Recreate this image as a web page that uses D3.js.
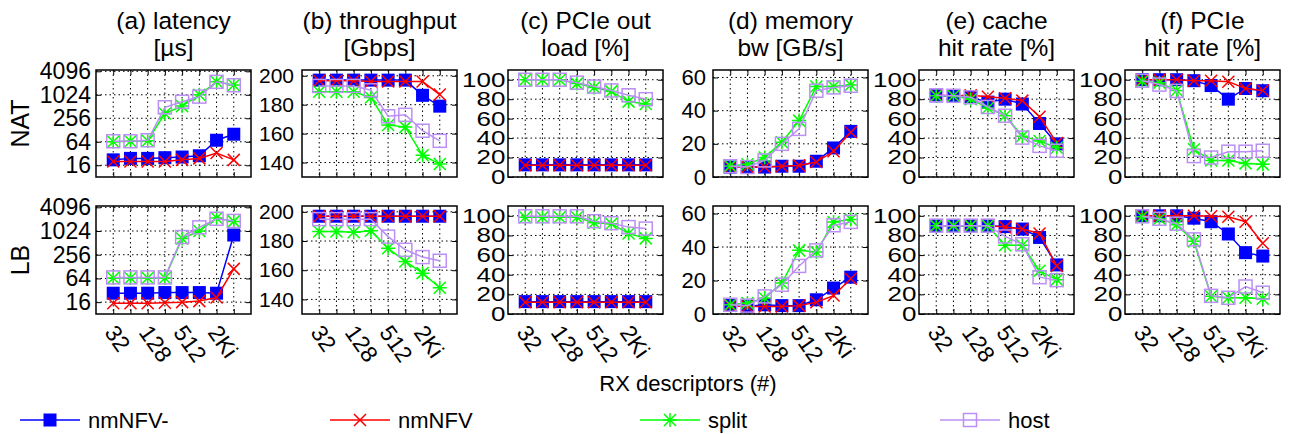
<!DOCTYPE html>
<html>
<head>
<meta charset="utf-8">
<script src="https://cdn.jsdelivr.net/npm/d3@7"></script>
<style>
    body { margin: 0; background: #fff; }
    text { font-family: "Liberation Sans", Arial, sans-serif; fill: #000; }
</style>
</head>
<body>
<svg id="chart" width="1292" height="434"></svg>
<script>
// x values (RX descriptors) and the tick labels shown
var rxDescriptors = [32, 64, 128, 256, 512, 1024, 2048, 4096];
var xTickValues = [32, 128, 512, 2048];
var xTickLabels = ["32", "128", "512", "2Ki"];

var seriesNames = ["nmNFV-", "nmNFV", "split", "host"];
var rowNames = ["NAT", "LB"];
var panelTitles = [
    ["(a) latency", "[\u00b5s]"],
    ["(b) throughput", "[Gbps]"],
    ["(c) PCIe out", "load [%]"],
    ["(d) memory", "bw [GB/s]"],
    ["(e) cache", "hit rate [%]"],
    ["(f) PCIe", "hit rate [%]"]
];
var yTicksLatency = [16, 64, 256, 1024, 4096];
var yTicksThroughput = [140, 160, 180, 200];
var yTicksPercent = [0, 20, 40, 60, 80, 100];
var yTicksMemory = [0, 20, 40, 60];

// each panel: rows are nmNFV-, nmNFV, split, host
var natLatency = [
    [22, 24, 24, 25, 26, 28, 70, 100],
    [20, 20, 20, 20, 22, 24, 33, 22],
    [64, 66, 68, 340, 525, 1024, 2200, 1830],
    [66, 66, 70, 490, 680, 920, 2200, 1800]
];
var natThroughput = [
    [197, 197, 197, 197, 197, 197, 186.5, 179],
    [196.5, 196.5, 196.5, 196, 196, 196, 196, 187],
    [189, 189, 189, 185, 166, 164.5, 145, 139],
    [193, 193, 193, 190, 172, 173, 162, 155]
];
var natPcieLoad = [
    [12.5, 12.5, 12.5, 12.5, 12.5, 12.5, 12.5, 12.5],
    [12, 12, 12, 12, 12, 12, 12, 12],
    [100, 100, 100, 96, 92, 88, 77.5, 75],
    [100, 100, 100, 97, 93, 89, 84, 80]
];
var natMemory = [
    [6, 6, 6, 6.5, 6.5, 9.5, 17.5, 27.5],
    [6, 6, 6, 6.5, 7, 9, 15.5, 27],
    [6.7, 7.7, 11.7, 21, 34, 54.5, 54.5, 55.5],
    [6.5, 6, 10, 20, 29, 52, 54, 55]
];
var natCache = [
    [83.5, 83.5, 82, 77, 80, 75, 55, 34],
    [84, 83.5, 84, 82.5, 81, 78.5, 62, 35],
    [83.5, 83.5, 80, 71, 63, 42, 37, 30],
    [84, 83.5, 82, 72, 63, 40.5, 32, 27]
];
var natPcieHit = [
    [100, 100, 100, 99, 94, 80, 91, 88.7],
    [100, 100, 100, 99, 99, 98, 91, 89],
    [98.5, 97, 89, 28.5, 17, 17, 14, 13],
    [99, 95, 88.5, 21.5, 20, 26, 26, 27]
];
var lbLatency = [
    [27, 27, 27, 28, 28, 28, 27, 810],
    [15, 15, 15, 15.5, 16, 17, 21, 112],
    [66, 66, 66, 66, 660, 1024, 2200, 1800],
    [68, 68, 68, 68, 720, 1270, 2100, 1850]
];
var lbThroughput = [
    [197, 197, 197, 197, 197, 197, 197, 197],
    [197, 197, 197, 197, 197, 197, 197, 197],
    [186.5, 186.5, 186, 187, 175, 166, 158, 148],
    [195, 195, 195, 195, 183, 174, 169, 166.5]
];
var lbPcieLoad = [
    [12.6, 12.6, 12.6, 12.6, 12.6, 12.6, 12.6, 12.6],
    [12, 12, 12, 12, 12, 12, 12, 12],
    [98.6, 98.6, 98.6, 98.6, 93, 92, 82, 77],
    [99.5, 99.5, 99.5, 99.5, 94.5, 92.5, 88.5, 87]
];
var lbMemory = [
    [5.5, 4.5, 5.5, 5, 5, 8.5, 15.5, 22],
    [5, 4.5, 4.5, 4.5, 5, 7, 11, 21],
    [5.5, 6.5, 9.5, 18.5, 38, 37, 55, 56.5],
    [5.5, 5, 10.5, 17.5, 28.7, 38, 53, 55]
];
var lbCache = [
    [90, 90, 90, 90, 89, 86.5, 78, 50],
    [90, 90, 90, 90, 88.5, 86.5, 82, 49],
    [90, 90, 90, 90, 70, 70, 44, 35],
    [90, 90, 90, 90, 79, 71, 37.5, 34.5]
];
var lbPcieHit = [
    [100, 100, 100, 97.6, 94, 81.5, 62.5, 59],
    [100, 100, 100, 100, 99.5, 99, 94, 72],
    [99, 97, 91, 74, 18, 16.5, 16.5, 15.5],
    [99.5, 97, 92, 76, 18.5, 16.5, 28, 21.7]
];

var panelData = [
    [natLatency, natThroughput, natPcieLoad, natMemory, natCache, natPcieHit],
    [lbLatency, lbThroughput, lbPcieLoad, lbMemory, lbCache, lbPcieHit]
];

var colors = ["#0000ff", "#ff0000", "#00ff00", "#bb8ff5"];

var svg = d3.select("#chart");
var panelW = 155;
var panelLefts = [96, 302, 508, 713, 919, 1125];
var rowTops = [70, 206];
var rowHeights = [107, 108];

function makeY(col, h) {
    if (col === 0) return d3.scaleLog().base(2).domain([8, 4096 * 1.08]).range([h, 0]);
    if (col === 1) return d3.scaleLinear().domain([130, 204]).range([h, 0]);
    if (col === 3) return d3.scaleLinear().domain([0, 64.5]).range([h, 0]);
    return d3.scaleLinear().domain([0, 110]).range([h, 0]);
}
function yTicksFor(col) {
    if (col === 0) return yTicksLatency;
    if (col === 1) return yTicksThroughput;
    if (col === 3) return yTicksMemory;
    return yTicksPercent;
}
// label size / gap per panel kind
var tickFont = [23, 21, 20, 22, 20, 20];
var tickGap = [5, 8, 2, 7, 2, 2];

var x = d3.scaleLog().base(2).domain([16, 8192]).range([0, panelW]);

function drawMarker(g, type, cx, cy) {
    var s = 6.5;
    if (type === 0) {
        g.append("rect").attr("x", cx - s).attr("y", cy - s)
            .attr("width", 2 * s).attr("height", 2 * s).attr("fill", colors[0]);
    } else if (type === 1) {
        g.append("path").attr("d", "M" + (cx - 6) + "," + (cy - 6) + "L" + (cx + 6) + "," + (cy + 6) +
            "M" + (cx - 6) + "," + (cy + 6) + "L" + (cx + 6) + "," + (cy - 6))
            .attr("stroke", colors[1]).attr("stroke-width", 1.5).attr("fill", "none");
    } else if (type === 2) {
        g.append("path").attr("d", "M" + (cx - 6) + "," + (cy - 6) + "L" + (cx + 6) + "," + (cy + 6) +
            "M" + (cx - 6) + "," + (cy + 6) + "L" + (cx + 6) + "," + (cy - 6) +
            "M" + (cx - 7) + "," + cy + "L" + (cx + 7) + "," + cy +
            "M" + cx + "," + (cy - 7) + "L" + cx + "," + (cy + 7))
            .attr("stroke", colors[2]).attr("stroke-width", 1.5).attr("fill", "none");
    } else {
        g.append("rect").attr("x", cx - s).attr("y", cy - s)
            .attr("width", 2 * s).attr("height", 2 * s).attr("fill", "none")
            .attr("stroke", colors[3]).attr("stroke-width", 1.5);
    }
}

rowNames.forEach(function(rowName, r) {
    var h = rowHeights[r];
    svg.append("text")
        .attr("transform", "translate(29," + (rowTops[r] + h / 2) + ") rotate(-90)")
        .attr("text-anchor", "middle")
        .style("font-size", "25px")
        .text(rowName);

    panelData[r].forEach(function(data, c) {
        var y = makeY(c, h);
        var g = svg.append("g").attr("transform", "translate(" + panelLefts[c] + "," + rowTops[r] + ")");

        // grid
        g.selectAll(".vgrid").data(rxDescriptors).enter().append("line")
            .attr("x1", function(d) { return x(d); }).attr("x2", function(d) { return x(d); })
            .attr("y1", 0).attr("y2", h)
            .attr("stroke", "#000").attr("stroke-width", 1).attr("stroke-dasharray", "1.5,3");
        g.selectAll(".hgrid").data(yTicksFor(c)).enter().append("line")
            .attr("x1", 0).attr("x2", panelW)
            .attr("y1", function(d) { return y(d); }).attr("y2", function(d) { return y(d); })
            .attr("stroke", "#000").attr("stroke-width", 1).attr("stroke-dasharray", "1.5,3");

        // y axis (ticks inside, labels outside)
        var yAxis = d3.axisLeft(y).tickValues(yTicksFor(c)).tickSize(-5).tickPadding(tickGap[c])
            .tickFormat(function(d) { return d; });
        var ya = g.append("g").call(yAxis);
        ya.select(".domain").remove();
        ya.selectAll("text")
            .attr("font-family", "Liberation Sans, Arial, sans-serif")
            .style("font-size", tickFont[c] + "px");
        if (c === 2 || c === 4 || c === 5) {
            // wide, squat percent labels as in the original
            ya.selectAll("text").attr("transform", "scale(1.3,1)");
        }
        var ya2 = g.append("g").attr("transform", "translate(" + panelW + ",0)")
            .call(d3.axisRight(y).tickValues(yTicksFor(c)).tickSize(-5).tickFormat(""));
        ya2.select(".domain").remove();

        // x axis ticks
        var xa = g.append("g").attr("transform", "translate(0," + h + ")")
            .call(d3.axisBottom(x).tickValues(rxDescriptors).tickSize(-5).tickFormat(""));
        xa.select(".domain").remove();
        var xa2 = g.append("g").call(d3.axisTop(x).tickValues(rxDescriptors).tickSize(-5).tickFormat(""));
        xa2.select(".domain").remove();

        if (r === 1) {
            g.selectAll(".xlab").data(xTickValues).enter().append("text")
                .attr("transform", function(d) { return "translate(" + (x(d) + 4) + "," + (h + 9) + ") rotate(55)"; })
                .attr("dy", "0.72em")
                .style("font-size", "23px")
                .text(function(d, i) { return xTickLabels[i]; });
        }

        // series
        data.forEach(function(vals, s) {
            var line = d3.line()
                .x(function(d, i) { return x(rxDescriptors[i]); })
                .y(function(d) { return y(d); });
            g.append("path").datum(vals)
                .attr("d", line).attr("fill", "none")
                .attr("stroke", colors[s]).attr("stroke-width", 1.5);
            vals.forEach(function(v, i) {
                drawMarker(g, s, x(rxDescriptors[i]), y(v));
            });
        });

        // frame
        g.append("rect").attr("width", panelW).attr("height", h)
            .attr("fill", "none").attr("stroke", "#000").attr("stroke-width", 1.5);

        if (r === 0) {
            var title = svg.append("text")
                .attr("x", panelLefts[c] + panelW / 2)
                .attr("text-anchor", "middle")
                .style("font-size", "24.5px");
            title.append("tspan").attr("x", panelLefts[c] + panelW / 2).attr("y", 29).text(panelTitles[c][0]);
            title.append("tspan").attr("x", panelLefts[c] + panelW / 2).attr("y", 56).text(panelTitles[c][1]);
        }
    });
});

svg.append("text")
    .attr("x", 688).attr("y", 391)
    .attr("text-anchor", "middle")
    .style("font-size", "22px")
    .text("RX descriptors (#)");

// legend
var legendX = [20, 330, 640, 940];
seriesNames.forEach(function(name, s) {
    var lg = svg.append("g");
    var lx = legendX[s], ly = 420;
    lg.append("line").attr("x1", lx).attr("x2", lx + 60).attr("y1", ly).attr("y2", ly)
        .attr("stroke", colors[s]).attr("stroke-width", 1.5);
    drawMarker(lg, s, lx + 30, ly);
    lg.append("text").attr("x", lx + 68).attr("y", ly + 8)
        .style("font-size", "22px").text(name);
});
</script>
</body>
</html>
